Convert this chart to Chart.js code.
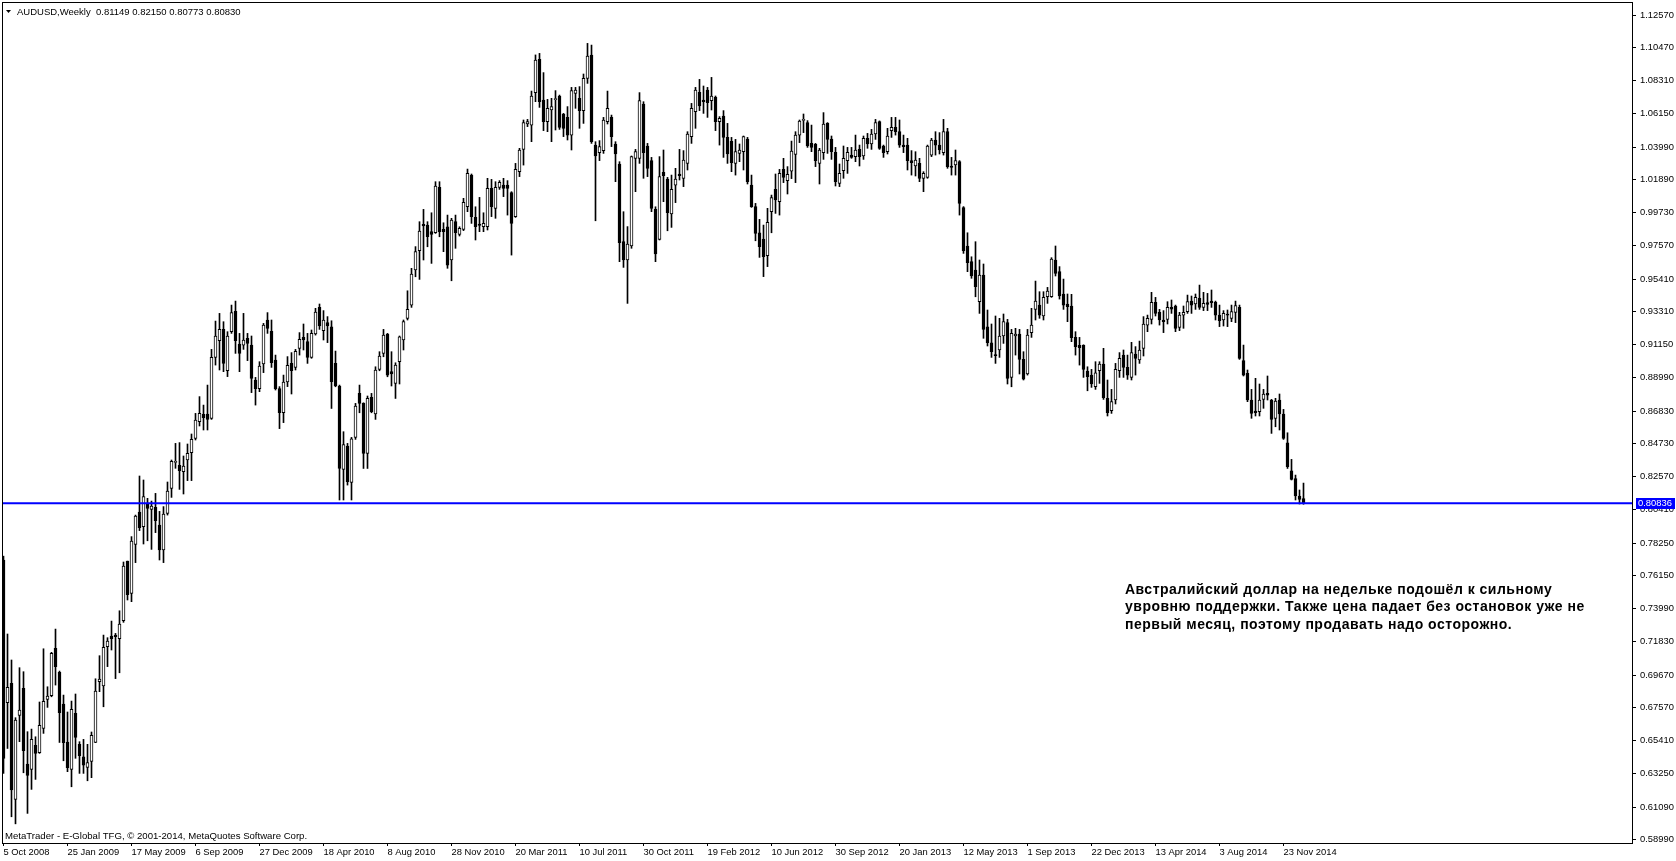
<!DOCTYPE html>
<html>
<head>
<meta charset="utf-8">
<script src="https://cdn.jsdelivr.net/npm/chart.js@4.4.1/dist/chart.umd.min.js"></script>
<style>
  html, body { margin: 0; padding: 0; background: #fff; overflow: hidden; }
  #wrap { width: 1676px; height: 861px; }
</style>
</head>
<body>
<div id="wrap"><canvas id="chart" width="1676" height="861"></canvas></div>
<script>
const symbolTitle = 'AUDUSD,Weekly';
const copyright = 'MetaTrader - E-Global TFG, © 2001-2014, MetaQuotes Software Corp.';
const noteLines = [
  'Австралийский доллар на недельке подошёл к сильному',
  'увровню поддержки. Также цена падает без остановок уже не',
  'первый месяц, поэтому продавать надо осторожно.',
];
const supportLevel = 0.80836;

// one tick every 16 weekly bars, bar 0 = week of 5 Oct 2008
const xTickWeeks = [0, 16, 32, 48, 64, 80, 96, 112, 128, 144, 160, 176, 192, 208, 224, 240, 256, 272, 288, 304, 320];
const xTickLabels = [
  '5 Oct 2008', '25 Jan 2009', '17 May 2009', '6 Sep 2009', '27 Dec 2009', '18 Apr 2010', '8 Aug 2010',
  '28 Nov 2010', '20 Mar 2011', '10 Jul 2011', '30 Oct 2011', '19 Feb 2012', '10 Jun 2012', '30 Sep 2012',
  '20 Jan 2013', '12 May 2013', '1 Sep 2013', '22 Dec 2013', '13 Apr 2014', '3 Aug 2014', '23 Nov 2014',
];
const yTickValues = [
  1.12570, 1.10470, 1.08310, 1.06150, 1.03990, 1.01890, 0.99730, 0.97570, 0.95410, 0.93310,
  0.91150, 0.88990, 0.86830, 0.84730, 0.82570, 0.80410, 0.78250, 0.76150, 0.73990, 0.71830,
  0.69670, 0.67570, 0.65410, 0.63250, 0.61090, 0.58990,
];

const openPrices = [
  .7715,.6787,.6913,.6159,.6705,.6881,.6389,.6354,.6510,.6462,
  .6621,.6809,.6833,.7141,.6985,.6779,.6532,.6354,.6718,.6517,
  .6436,.6367,.6406,.6530,.6924,.6896,.7151,.7221,.7227,.7204,
  .7320,.7708,.7498,.7817,.8027,.7932,.8079,.8044,.8057,.7942,
  .7780,.8018,.8181,.8350,.8330,.8289,.8365,.8413,.8506,.8614,
  .8662,.8664,.8636,.9032,.9141,.9214,.8946,.9199,.9331,.9119,
  .9112,.9156,.9112,.8885,.8829,.8989,.9275,.9201,.9015,.8829,
  .8673,.8872,.8993,.8967,.9091,.9162,.9134,.9032,.9184,.9357,
  .9206,.9258,.9231,.8993,.8846,.8304,.8456,.8219,.8512,.8798,
  .8733,.8408,.8772,.8664,.8954,.9058,.9184,.8939,.8863,.9004,
  .9145,.9286,.9372,.9600,.9725,.9897,.9892,.9849,.9842,1.0137,
  .9864,.9881,.9665,.9914,.9832,.9864,1.0011,1.0217,.9942,.9899,
  .9881,.9881,1.0131,1.0001,1.0137,1.0152,1.0152,1.0103,.9947,1.0239,
  1.0384,1.0549,1.0542,1.0753,1.0969,1.0705,1.0564,1.0640,1.0707,1.0731,
  1.0614,1.0592,1.0477,1.0748,1.0716,1.0636,1.0846,1.0997,1.0412,1.0363,
  1.0376,1.0564,1.0592,1.0419,1.0289,.9784,.9665,.9756,1.0326,1.0326,
  1.0679,1.0406,1.0311,.9994,.9799,1.0235,1.0191,.9964,1.0152,1.0224,
  1.0196,1.0293,1.0467,1.0629,1.0755,1.0705,1.0770,1.0701,1.0722,1.0564,
  1.0601,1.0462,1.0436,1.0293,1.0358,1.0369,1.0451,1.0152,1.0012,.9842,
  .9801,.9693,.9979,1.0124,1.0044,1.0254,1.0181,1.0243,1.0352,1.0477,
  1.0573,1.0558,1.0423,1.0417,1.0293,1.0363,1.0553,1.0451,1.0365,1.0163,
  1.0246,1.0311,1.0347,1.0337,1.0384,1.0341,1.0456,1.0419,1.0484,1.0564,
  1.0406,1.0369,1.0506,1.0527,1.0499,1.0412,1.0412,1.0311,1.0276,1.0293,
  1.0196,1.0202,1.0347,1.0445,1.0412,1.0363,1.0499,1.0276,1.0283,1.0304,
  1.0005,.9756,.9654,.9600,.9394,.9567,.9231,.9127,.9047,.9080,
  .9171,.9258,.8902,.9171,.9184,.9019,.8924,.9193,.9344,.9372,
  .9301,.9426,.9426,.9665,.9589,.9444,.9379,.9366,.9162,.9110,
  .9110,.8943,.8917,.8841,.8946,.8989,.8766,.8685,.8755,.8946,
  .9047,.8967,.8902,.9054,.9015,.9091,.9242,.9279,.9390,.9325,
  .9275,.9279,.9357,.9366,.9227,.9307,.9329,.9398,.9379,.9416,
  .9357,.9388,.9398,.9392,.9307,.9275,.9314,.9286,.9325,.9357,
  .9011,.8928,.8755,.8683,.8679,.8759,.8798,.8755,.8636,.8755,
  .8664,.8477,.8295,.8245,.8131,.81149,
];
const highPrices = [
  .7740,.7234,.7065,.6690,.7015,.6989,.6599,.6616,.6566,.6792,
  .7138,.6891,.7115,.7266,.6993,.6837,.6727,.6798,.6844,.6534,
  .6549,.6517,.6597,.6943,.7093,.7227,.7210,.7318,.7238,.7385,
  .7702,.7708,.7867,.8007,.8261,.8235,.8116,.8098,.8148,.8031,
  .8062,.8222,.8365,.8473,.8478,.8391,.8469,.8534,.8668,.8777,
  .8722,.8852,.9084,.9268,.9318,.9264,.9199,.9372,.9398,.9188,
  .9318,.9188,.9171,.8902,.9004,.9253,.9323,.9275,.9047,.8842,
  .8917,.9037,.9063,.9084,.9193,.9249,.9188,.9210,.9351,.9379,
  .9336,.9297,.9270,.9073,.8852,.8549,.8473,.8512,.8733,.8852,
  .8737,.8781,.8798,.8971,.9069,.9214,.9188,.9069,.8997,.9171,
  .9275,.9465,.9611,.9752,.9914,.9994,.9914,.9972,1.0174,1.0174,
  .9907,.9957,.9936,.9957,.9881,1.0066,1.0256,1.0224,1.0011,1.0072,
  .9972,1.0196,1.0189,1.0174,1.0181,1.0196,1.0181,1.0109,1.0293,1.0391,
  1.0575,1.0579,1.0763,1.0998,1.1008,1.0883,1.0709,1.0716,1.0766,1.0737,
  1.0618,1.0662,1.0787,1.0787,1.0792,1.0874,1.1073,1.1062,1.0434,1.0441,
  1.0592,1.0763,1.0607,1.0434,1.0304,.9979,.9882,1.0341,1.0384,1.0753,
  1.0694,1.0423,1.0332,1.0011,1.0337,1.0380,1.0202,1.0217,1.0261,1.0384,
  1.0376,1.0499,1.0683,1.0787,1.0839,1.0796,1.0787,1.0852,1.0731,1.0597,
  1.0636,1.0553,1.0462,1.0449,1.0419,1.0471,1.0462,1.0217,1.0033,.9929,
  .9892,1.0001,1.0087,1.0224,1.0254,1.0326,1.0272,1.0438,1.0499,1.0575,
  1.0614,1.0571,1.0542,1.0423,1.0391,1.0623,1.0558,1.0471,1.0397,1.0289,
  1.0406,1.0397,1.0397,1.0477,1.0412,1.0471,1.0488,1.0514,1.0579,1.0569,
  1.0412,1.0521,1.0592,1.0592,1.0575,1.0477,1.0456,1.0376,1.0369,1.0326,
  1.0239,1.0412,1.0456,1.0499,1.0493,1.0579,1.0521,1.0332,1.0380,1.0311,
  1.0012,.9842,.9686,.9784,.9665,.9639,.9340,.9249,.9301,.9286,
  .9314,.9279,.9214,.9221,.9214,.9069,.9214,.9351,.9528,.9459,
  .9459,.9487,.9680,.9756,.9622,.9541,.9444,.9442,.9199,.9162,
  .9114,.8971,.8954,.9004,.9004,.9091,.8885,.8824,.8993,.9063,
  .9080,.9047,.9130,.9102,.9138,.9297,.9307,.9455,.9422,.9344,
  .9336,.9394,.9405,.9372,.9325,.9366,.9437,.9431,.9444,.9502,
  .9455,.9448,.9470,.9398,.9372,.9336,.9340,.9372,.9398,.9372,
  .9112,.8950,.8824,.8896,.8859,.8824,.8911,.8759,.8766,.8794,
  .8694,.8542,.8369,.8267,.8170,.82150,
];
const lowPrices = [
  .6328,.6490,.6046,.6000,.6534,.6332,.6068,.6224,.6289,.6458,
  .6588,.6757,.6826,.6902,.6529,.6410,.6339,.6241,.6426,.6328,
  .6328,.6280,.6300,.6528,.6859,.6761,.7022,.7130,.6944,.6982,
  .7310,.7455,.7444,.7698,.7906,.7819,.7840,.7784,.7893,.7715,
  .7698,.8007,.8122,.8311,.8174,.8144,.8231,.8231,.8495,.8586,
  .8560,.8560,.8629,.8982,.8950,.8939,.8907,.9188,.9058,.8939,
  .9084,.9011,.8803,.8722,.8809,.8933,.9188,.8967,.8820,.8569,
  .8608,.8842,.8794,.8950,.9047,.9080,.8993,.9026,.9177,.9214,
  .9145,.9128,.8700,.8841,.8105,.8105,.8202,.8105,.8499,.8672,
  .8310,.8310,.8672,.8629,.8945,.9036,.8906,.8846,.8765,.8859,
  .9080,.9275,.9357,.9556,.9539,.9665,.9751,.9643,.9838,.9816,
  .9719,.9611,.9530,.9741,.9821,.9856,.9979,.9903,.9795,.9849,
  .9849,.9860,.9947,.9936,1.0124,1.0077,.9957,.9697,.9942,1.0207,
  1.0282,1.0532,1.0434,1.0694,1.0657,1.0506,1.0499,1.0434,1.0510,1.0514,
  1.0467,1.0445,1.0380,1.0651,1.0521,1.0553,1.0813,1.0423,.9920,1.0311,
  1.0358,1.0549,1.0402,1.0174,.9654,.9617,.9383,.9741,1.0109,1.0293,
  1.0196,1.0207,.9979,.9654,.9795,1.0044,.9855,.9877,1.0038,1.0185,
  1.0142,1.0250,1.0423,1.0521,1.0636,1.0618,1.0592,1.0640,1.0506,1.0412,
  1.0332,1.0293,1.0239,1.0217,1.0304,1.0250,1.0159,1.0007,.9790,.9682,
  .9557,.9622,.9842,.9968,.9957,1.0168,1.0094,1.0194,1.0168,1.0428,
  1.0493,1.0397,1.0369,1.0272,1.0159,1.0319,1.0358,1.0319,1.0146,1.0142,
  1.0196,1.0228,1.0326,1.0304,1.0276,1.0319,1.0391,1.0384,1.0449,1.0384,
  1.0332,1.0354,1.0462,1.0477,1.0397,1.0363,1.0250,1.0217,1.0211,1.0174,
  1.0109,1.0196,1.0337,1.0347,1.0354,1.0347,1.0261,1.0217,1.0217,.9957,
  .9708,.9589,.9546,.9426,.9318,.9156,.9106,.9032,.8993,.9032,
  .9123,.8859,.8841,.9047,.8924,.8885,.8917,.9162,.9275,.9286,
  .9275,.9383,.9422,.9561,.9411,.9344,.9264,.9134,.9047,.8982,
  .8902,.8815,.8837,.8824,.8863,.8759,.8651,.8668,.8729,.8902,
  .8902,.8889,.8885,.8917,.8993,.9041,.9199,.9249,.9301,.9242,
  .9193,.9249,.9318,.9199,.9206,.9221,.9318,.9318,.9344,.9344,
  .9336,.9336,.9357,.9275,.9232,.9236,.9232,.9264,.9258,.9019,
  .8911,.8744,.8636,.8651,.8651,.8701,.8755,.8538,.8581,.8560,
  .8499,.8310,.8235,.8105,.8079,.80773,
];
const closePrices = [
  .6425,.6887,.6220,.6675,.6740,.6475,.6315,.6549,.6458,.6640,
  .6796,.6831,.7108,.7021,.6722,.6527,.6365,.6744,.6562,.6443,
  .6382,.6399,.6575,.6863,.6941,.7147,.7188,.7204,.7217,.7299,
  .7676,.7490,.7838,.8001,.7925,.8127,.8051,.8066,.7971,.7780,
  .8014,.8163,.8356,.8352,.8296,.8326,.8408,.8499,.8625,.8668,
  .8640,.8629,.9032,.9171,.9214,.8993,.9171,.9323,.9141,.9058,
  .9145,.9123,.8896,.8829,.8976,.9242,.9221,.8998,.8829,.8673,
  .8872,.8980,.8946,.9071,.9149,.9145,.9032,.9188,.9327,.9236,
  .9275,.9236,.8874,.8846,.8310,.8466,.8224,.8503,.8716,.8733,
  .8408,.8766,.8679,.8950,.9041,.9177,.8917,.8924,.8982,.9166,
  .9264,.9344,.9574,.9719,.9853,.9886,.9816,.9832,1.0146,.9849,
  .9849,.9632,.9925,.9842,.9871,1.0040,1.0228,.9947,.9881,.9890,
  .9903,1.0131,1.0011,1.0137,1.0170,1.0131,1.0131,.9903,1.0254,1.0380,
  1.0558,1.0564,1.0731,1.0965,1.0694,1.0564,1.0651,1.0662,1.0711,1.0527,
  1.0521,1.0477,1.0766,1.0770,1.0636,1.0846,1.0991,1.0434,1.0341,1.0402,
  1.0575,1.0651,1.0467,1.0354,.9777,.9665,.9769,1.0337,1.0369,1.0701,
  1.0363,1.0261,1.0001,.9704,1.0207,1.0213,.9973,1.0124,1.0191,1.0213,
  1.0315,1.0484,1.0651,1.0770,1.0666,1.0694,1.0688,1.0731,1.0564,1.0586,
  1.0462,1.0354,1.0298,1.0369,1.0380,1.0467,1.0174,1.0012,.9838,.9752,
  .9686,.9910,1.0070,1.0055,1.0228,1.0202,1.0222,1.0373,1.0477,1.0568,
  1.0577,1.0406,1.0397,1.0311,1.0380,1.0549,1.0449,1.0369,1.0174,1.0228,
  1.0326,1.0365,1.0332,1.0380,1.0337,1.0456,1.0419,1.0484,1.0558,1.0391,
  1.0363,1.0471,1.0527,1.0499,1.0412,1.0402,1.0311,1.0298,1.0315,1.0196,
  1.0228,1.0406,1.0445,1.0412,1.0380,1.0499,1.0272,1.0267,1.0311,1.0033,
  .9726,.9647,.9561,.9492,.9567,.9214,.9127,.9069,.9043,.9171,
  .9264,.8896,.9188,.9184,.9019,.8891,.9177,.9242,.9398,.9307,
  .9422,.9463,.9671,.9578,.9431,.9372,.9362,.9160,.9102,.9095,
  .8954,.8906,.8859,.8932,.8989,.8770,.8672,.8744,.8954,.9026,
  .8967,.8917,.9063,.9026,.9080,.9249,.9286,.9390,.9318,.9275,
  .9264,.9357,.9346,.9221,.9307,.9325,.9394,.9372,.9422,.9357,
  .9383,.9377,.9388,.9307,.9270,.9318,.9307,.9329,.9368,.9026,
  .8917,.8755,.8668,.8672,.8755,.8794,.8787,.8629,.8748,.8664,
  .8506,.8321,.8239,.8131,.8109,.80830,
];

// visible window: bar spacing 4px, empty space on the right like the terminal
const X_MIN = -0.375;
const X_MAX = 407.125;
const Y_MIN = 0.58755;
const Y_MAX = 1.1342;

const FONT = "'Liberation Sans', Arial, sans-serif";

const wicks = highPrices.map((h, i) => ({ x: i, y: [lowPrices[i], h] }));
const bodies = openPrices.map((o, i) => ({ x: i, y: [Math.min(o, closePrices[i]), Math.max(o, closePrices[i])] }));

const overlay = {
  id: 'overlay',
  beforeDraw(chart) {
    const ctx = chart.ctx;
    ctx.save();
    ctx.fillStyle = '#fff';
    ctx.fillRect(0, 0, chart.width, chart.height);
    ctx.restore();
  },
  afterDraw(chart) {
    const { ctx, chartArea: a, scales } = chart;
    const last = openPrices.length - 1;
    ctx.save();

    // frame
    ctx.strokeStyle = '#000';
    ctx.lineWidth = 1;
    ctx.strokeRect(Math.floor(a.left) + 0.5, Math.floor(a.top) + 0.5,
      Math.round(a.right - a.left), Math.round(a.bottom - a.top));

    // header
    ctx.fillStyle = '#000';
    ctx.textBaseline = 'alphabetic';
    ctx.beginPath();
    ctx.moveTo(6, 10); ctx.lineTo(11, 10); ctx.lineTo(8.5, 13); ctx.closePath();
    ctx.fill();
    ctx.font = '9.5px ' + FONT;
    const ohlc = [openPrices[last], highPrices[last], lowPrices[last], closePrices[last]]
      .map(v => v.toFixed(5)).join(' ');
    ctx.fillText(symbolTitle + '  ' + ohlc, 17, 14.5);

    // footer
    ctx.font = '9.6px ' + FONT;
    ctx.fillText(copyright, 5, 838.5);

    // comment
    ctx.font = 'bold 14px ' + FONT;
    ctx.letterSpacing = '0.5px';
    noteLines.forEach((t, k) => ctx.fillText(t, 1125, 593.5 + k * 17.8));
    ctx.letterSpacing = '0px';

    // current level marker on the price axis
    const py = scales.y.getPixelForValue(supportLevel);
    ctx.fillStyle = '#0000ff';
    ctx.fillRect(1636, Math.round(py) - 5, 39, 11);
    ctx.fillStyle = '#fff';
    ctx.font = '9.4px ' + FONT;
    ctx.textBaseline = 'middle';
    ctx.fillText(supportLevel.toFixed(5), 1638, Math.round(py) + 0.5);

    ctx.restore();
  },
};

new Chart(document.getElementById('chart'), {
  type: 'bar',
  data: {
    datasets: [
      {
        type: 'line',
        data: [{ x: X_MIN, y: supportLevel }, { x: X_MAX, y: supportLevel }],
        borderColor: '#0000ff',
        borderWidth: 2,
        pointRadius: 0,
        order: 0,
      },
      {
        data: bodies,
        grouped: false,
        barThickness: 3,
        borderWidth: 1,
        borderSkipped: false,
        minBarLength: 1,
        borderColor: '#000',
        backgroundColor: (c) => closePrices[c.dataIndex] >= openPrices[c.dataIndex] ? '#fff' : '#000',
        order: 1,
      },
      {
        data: wicks,
        grouped: false,
        barThickness: 1,
        borderWidth: 0,
        backgroundColor: '#000',
        order: 2,
      },
    ],
  },
  options: {
    responsive: false,
    animation: false,
    events: [],
    devicePixelRatio: 1,
    layout: { padding: { left: 2, top: 2, right: 0, bottom: 0 } },
    plugins: { legend: { display: false }, tooltip: { enabled: false } },
    scales: {
      x: {
        type: 'linear',
        min: X_MIN,
        max: X_MAX,
        offset: false,
        afterBuildTicks: (s) => { s.ticks = xTickWeeks.map(v => ({ value: v })); },
        afterFit: (s) => { s.height = 18; s.paddingLeft = 0; s.paddingRight = 0; },
        grid: { drawOnChartArea: false, drawTicks: true, tickLength: 3, color: '#000', offset: false },
        border: { display: false },
        ticks: {
          autoSkip: false,
          maxRotation: 0,
          minRotation: 0,
          align: 'start',
          padding: 1,
          color: '#000',
          font: { family: FONT, size: 9.4 },
          callback: (v) => xTickLabels[xTickWeeks.indexOf(v)],
        },
      },
      y: {
        position: 'right',
        min: Y_MIN,
        max: Y_MAX,
        afterBuildTicks: (s) => { s.ticks = yTickValues.map(v => ({ value: v })); },
        afterFit: (s) => { s.width = 44; s.paddingTop = 0; s.paddingBottom = 0; },
        grid: { drawOnChartArea: false, drawTicks: true, tickLength: 4, color: '#000' },
        border: { display: false },
        ticks: {
          padding: 4,
          color: '#000',
          font: { family: FONT, size: 9.4 },
          callback: (v) => v.toFixed(5),
        },
      },
    },
  },
  plugins: [overlay],
});
</script>
</body>
</html>
